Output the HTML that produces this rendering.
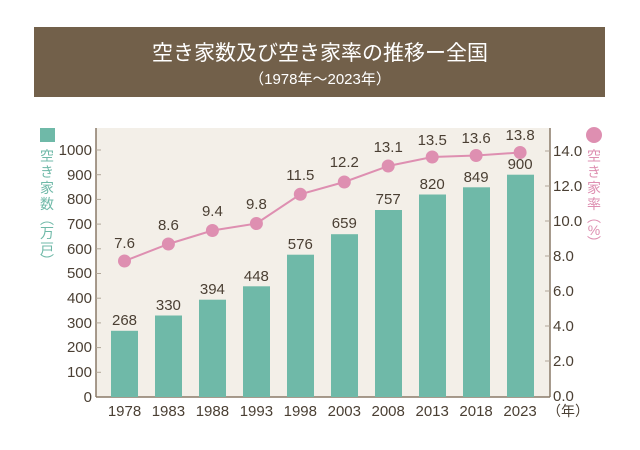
<!DOCTYPE html>
<html><head><meta charset="utf-8"><style>
html,body{margin:0;padding:0;background:#fff;}
svg{display:block;font-family:"Liberation Sans","Noto Sans CJK JP",sans-serif;}
</style></head><body>
<svg width="640" height="450" viewBox="0 0 640 450">
<rect x="34" y="27" width="571" height="70" fill="#72604a"/>
<text x="320" y="60" font-size="21" fill="#fff" text-anchor="middle">空き家数及び空き家率の推移ー全国</text>
<text x="320" y="84" font-size="15" fill="#fff" text-anchor="middle">（1978年～2023年）</text>
<rect x="96" y="128" width="454" height="269" fill="#f3efe8"/>
<line x1="96" y1="128" x2="96" y2="397" stroke="#8a7a68" stroke-width="1.5"/>
<line x1="550" y1="128" x2="550" y2="397" stroke="#8a7a68" stroke-width="1.5"/>
<line x1="96" y1="397" x2="550" y2="397" stroke="#8a7a68" stroke-width="1.5"/>
<g fill="#4a3f33" font-size="15" text-anchor="end">
<text x="92" y="402">0</text><text x="92" y="377">100</text><text x="92" y="352">200</text><text x="92" y="328">300</text><text x="92" y="303">400</text><text x="92" y="278">500</text><text x="92" y="254">600</text><text x="92" y="229">700</text><text x="92" y="204">800</text><text x="92" y="180">900</text><text x="92" y="155">1000</text>
</g>
<g stroke="#b0a698" stroke-width="1">
<line x1="96" x2="101" y1="372.3" y2="372.3"/><line x1="96" x2="101" y1="347.6" y2="347.6"/><line x1="96" x2="101" y1="322.9" y2="322.9"/><line x1="96" x2="101" y1="298.2" y2="298.2"/><line x1="96" x2="101" y1="273.5" y2="273.5"/><line x1="96" x2="101" y1="248.8" y2="248.8"/><line x1="96" x2="101" y1="224.1" y2="224.1"/><line x1="96" x2="101" y1="199.4" y2="199.4"/><line x1="96" x2="101" y1="174.7" y2="174.7"/><line x1="96" x2="101" y1="150" y2="150"/>
<line x1="545" x2="550" y1="361" y2="361"/><line x1="545" x2="550" y1="326" y2="326"/><line x1="545" x2="550" y1="291" y2="291"/><line x1="545" x2="550" y1="256" y2="256"/><line x1="545" x2="550" y1="221" y2="221"/><line x1="545" x2="550" y1="186" y2="186"/><line x1="545" x2="550" y1="151" y2="151"/>
</g>
<g fill="#4a3f33" font-size="15">
<text x="553" y="401">0.0</text><text x="553" y="366">2.0</text><text x="553" y="331">4.0</text><text x="553" y="296">6.0</text><text x="553" y="261">8.0</text><text x="553" y="226">10.0</text><text x="553" y="191">12.0</text><text x="553" y="156">14.0</text>
</g>
<g fill="#6fb9a8">
<rect x="111" y="330.8" width="27" height="66.2"/><rect x="155" y="315.5" width="27" height="81.5"/><rect x="199" y="299.7" width="27" height="97.3"/><rect x="243" y="286.3" width="27" height="110.7"/><rect x="287" y="254.7" width="27" height="142.3"/><rect x="331" y="234.2" width="27" height="162.8"/><rect x="375" y="210" width="27" height="187"/><rect x="419" y="194.5" width="27" height="202.5"/><rect x="463" y="187.3" width="27" height="209.7"/><rect x="507" y="174.7" width="27" height="222.3"/>
</g>
<g fill="#4a3f33" font-size="15" text-anchor="middle">
<text x="124.5" y="325">268</text><text x="168.4" y="310">330</text><text x="212.4" y="294">394</text><text x="256.4" y="281">448</text><text x="300.3" y="249">576</text><text x="344.3" y="228">659</text><text x="388.2" y="204">757</text><text x="432.2" y="189">820</text><text x="476.1" y="182">849</text><text x="520.1" y="169">900</text>
<text x="124.5" y="248">7.6</text><text x="168.4" y="230">8.6</text><text x="212.4" y="216">9.4</text><text x="256.4" y="209">9.8</text><text x="300.3" y="180">11.5</text><text x="344.3" y="167">12.2</text><text x="388.2" y="152">13.1</text><text x="432.2" y="145">13.5</text><text x="476.1" y="143">13.6</text><text x="520.1" y="140">13.8</text>
<text x="124.5" y="416">1978</text><text x="168.4" y="416">1983</text><text x="212.4" y="416">1988</text><text x="256.4" y="416">1993</text><text x="300.3" y="416">1998</text><text x="344.3" y="416">2003</text><text x="388.2" y="416">2008</text><text x="432.2" y="416">2013</text><text x="476.1" y="416">2018</text><text x="520.1" y="416">2023</text>
</g>
<text x="547" y="416" font-size="14" fill="#4a3f33">（年）</text>
<polyline fill="none" stroke="#de8fb1" stroke-width="2" points="124.5,261 168.4,244 212.4,230.5 256.4,223.5 300.3,194.3 344.3,182 388.2,166 432.2,157 476.1,155.5 520.1,152.5"/>
<g fill="#de8fb1">
<circle cx="124.5" cy="261" r="6.5"/><circle cx="168.4" cy="244" r="6.5"/><circle cx="212.4" cy="230.5" r="6.5"/><circle cx="256.4" cy="223.5" r="6.5"/><circle cx="300.3" cy="194.3" r="6.5"/><circle cx="344.3" cy="182" r="6.5"/><circle cx="388.2" cy="166" r="6.5"/><circle cx="432.2" cy="157" r="6.5"/><circle cx="476.1" cy="155.5" r="6.5"/><circle cx="520.1" cy="152.5" r="6.5"/>
<circle cx="594" cy="135" r="8"/>
</g>
<rect x="40" y="128" width="15" height="14" fill="#6fb9a8"/>
<g fill="#6fb9a8" font-size="14" text-anchor="middle">
<text x="47" y="161">空</text><text x="47" y="177">き</text><text x="47" y="193">家</text><text x="47" y="209">数</text><text x="47" y="224">︵</text><text x="47" y="238">万</text><text x="47" y="254">戸</text><text x="47" y="266">︶</text>
</g>
<g fill="#de8fb1" font-size="14" text-anchor="middle">
<text x="594" y="161">空</text><text x="594" y="177">き</text><text x="594" y="193">家</text><text x="594" y="209">率</text><text x="594" y="222">︵</text><text x="594" y="235">%</text><text x="594" y="248">︶</text>
</g>
</svg>
</body></html>
